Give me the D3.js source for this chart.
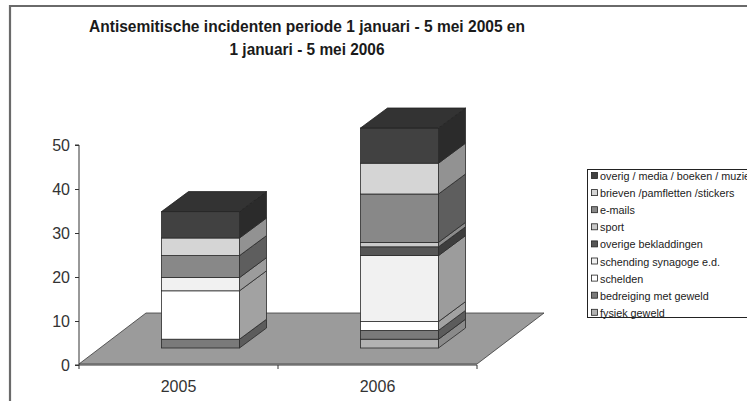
<!DOCTYPE html>
<html>
<head>
<meta charset="utf-8">
<script src="https://cdn.jsdelivr.net/npm/d3@7"></script>
<style>
  body { margin: 0; background: #fff; }
  svg { display: block; font-family: "Liberation Sans", Arial, sans-serif; }
</style>
</head>
<body>
<div id="wrapper"></div>
<script>
// gegevens, van onder naar boven gestapeld
const years = ["2005", "2006"];
const series = [
    "fysiek geweld",
    "bedreiging met geweld",
    "schelden",
    "schending synagoge e.d.",
    "overige bekladdingen",
    "sport",
    "e-mails",
    "brieven /pamfletten /stickers",
    "overig / media / boeken / muziek"
];
const values2005 = [0, 2, 11, 3, 0, 0, 5, 4, 6];
const values2006 = [2, 2, 2, 15, 2, 1, 11, 7, 8];
const yTicks = [0, 10, 20, 30, 40, 50];
const titleLines = [
    "Antisemitische incidenten periode 1 januari - 5 mei 2005 en",
    "1 januari - 5 mei 2006"
];

const frontColors = ["#b2b2b2", "#7a7a7a", "#ffffff", "#f1f1f1", "#565656", "#cacaca", "#888888", "#d5d5d5", "#414141"];
const sideColors  = ["#8a8a8a", "#5c5c5c", "#a2a2a2", "#9c9c9c", "#3e3e3e", "#8c8c8c", "#5e5e5e", "#929292", "#2b2b2b"];

const table = years.map((y, i) => {
    const row = { year: y };
    series.forEach((s, j) => row[s] = (i === 0 ? values2005 : values2006)[j]);
    return row;
});

const width = 747, height = 401;
const svg = d3.select("#wrapper").append("svg")
    .attr("width", width)
    .attr("height", height);

// rand van de grafiek
svg.append("path")
    .attr("d", "M10,420 L10,6 L760,6")
    .attr("fill", "none")
    .attr("stroke", "#6a6a6a")
    .attr("stroke-width", 2.2);

// titel
svg.append("g").selectAll("text")
    .data(titleLines)
    .join("text")
    .attr("x", 307)
    .attr("y", (d, i) => 32 + i * 23)
    .attr("text-anchor", "middle")
    .attr("font-size", 17)
    .attr("font-weight", "bold")
    .attr("fill", "#1a1a1a")
    .attr("textLength", (d, i) => i === 0 ? 436 : 155)
    .attr("lengthAdjust", "spacingAndGlyphs")
    .text(d => d);

const xScaler = d3.scaleBand().domain(years).range([79, 477]);
const yScaler = d3.scaleLinear().domain([0, 50]).range([365, 145]);

// diepte (3D) verschuivingen
const floorDepth = { dx: 67, dy: -51 };
const front = { dx: 22, dy: -17 };
const back = { dx: 49, dy: -37 };
const barWidth = 78;

// vloer
const x0 = xScaler.range()[0], x1 = xScaler.range()[1], yz = yScaler(0) - 1;
svg.append("polygon")
    .attr("points", [
        [x0, yz], [x1, yz],
        [x1 + floorDepth.dx, yz + floorDepth.dy],
        [x0 + floorDepth.dx, yz + floorDepth.dy]
    ].map(p => p.join(",")).join(" "))
    .attr("fill", "#9b9b9b")
    .attr("stroke", "#3a3a3a")
    .attr("stroke-width", 0.8);

// y-as
const yAxis = d3.axisLeft(yScaler).tickValues(yTicks).tickSize(4).tickPadding(5);
const yG = svg.append("g").attr("transform", "translate(79,0)").call(yAxis);
yG.select(".domain").attr("stroke", "#333").attr("d", `M-4,${yScaler(50)}H0V${yScaler(0)}H-4`);
yG.selectAll(".tick line").attr("stroke", "#333");
yG.selectAll(".tick text").attr("font-size", 16).attr("fill", "#333")
    .attr("font-family", "Liberation Sans, Arial, sans-serif");

// x-as
const xAxis = d3.axisBottom(xScaler).tickSize(0).tickPadding(16);
const xG = svg.append("g").attr("transform", `translate(0,${yScaler(0)})`).call(xAxis);
xG.select(".domain").attr("stroke", "#333").attr("d", `M${x0},4V0H${x1}V4`);
xG.append("line").attr("x1", (x0 + x1) / 2).attr("x2", (x0 + x1) / 2)
    .attr("y1", 0).attr("y2", 4).attr("stroke", "#333");
xG.selectAll(".tick text").attr("font-size", 16).attr("fill", "#333")
    .attr("font-family", "Liberation Sans, Arial, sans-serif");

// gestapelde 3D kolommen
const stacked = d3.stack().keys(series)(table);
const pts = arr => arr.map(p => p.join(",")).join(" ");

years.forEach((yr, i) => {
    const g = svg.append("g");
    const xl = xScaler(yr) + xScaler.bandwidth() / 2 - barWidth / 2;
    const xr = xl + barWidth;
    let topVal = 0;
    stacked.forEach((layer, j) => {
        const [v0, v1] = layer[i];
        if (v1 - v0 <= 0) return;
        topVal = v1;
        const ya = yScaler(v0), yb = yScaler(v1);
        g.append("polygon")
            .attr("points", pts([
                [xr + front.dx, ya + front.dy], [xr + back.dx, ya + back.dy],
                [xr + back.dx, yb + back.dy], [xr + front.dx, yb + front.dy]
            ]))
            .attr("fill", sideColors[j])
            .attr("stroke", "#2a2a2a").attr("stroke-width", 0.8);
        g.append("rect")
            .attr("x", xl + front.dx)
            .attr("y", yb + front.dy)
            .attr("width", barWidth)
            .attr("height", ya - yb)
            .attr("fill", frontColors[j])
            .attr("stroke", "#2a2a2a").attr("stroke-width", 0.8);
    });
    const yt = yScaler(topVal);
    g.append("polygon")
        .attr("points", pts([
            [xl + front.dx, yt + front.dy], [xl + back.dx, yt + back.dy],
            [xr + back.dx, yt + back.dy], [xr + front.dx, yt + front.dy]
        ]))
        .attr("fill", "#333333")
        .attr("stroke", "#222").attr("stroke-width", 0.8);
});

// legenda
const legend = svg.append("g");
legend.append("rect")
    .attr("x", 587.5).attr("y", 169.5)
    .attr("width", 200).attr("height", 148)
    .attr("fill", "#fff").attr("stroke", "#222").attr("stroke-width", 1);
const legendItems = series.map((s, j) => ({ s, j })).reverse();
const li = legend.selectAll("g.item")
    .data(legendItems)
    .join("g")
    .attr("class", "item")
    .attr("transform", (d, k) => `translate(591,${176 + k * 17.1})`);
li.append("rect")
    .attr("x", 0.5).attr("y", -3.5)
    .attr("width", 6).attr("height", 6)
    .attr("fill", d => frontColors[d.j])
    .attr("stroke", "#222").attr("stroke-width", 0.8);
li.append("text")
    .attr("x", 9).attr("y", 4)
    .attr("font-size", 10.8)
    .attr("fill", "#222")
    .text(d => d.s);
</script>
</body>
</html>
